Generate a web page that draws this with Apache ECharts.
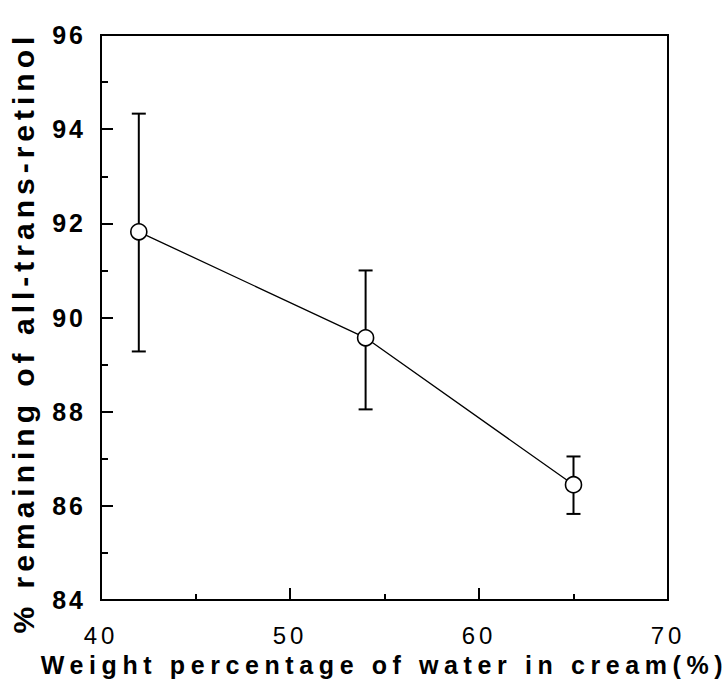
<!DOCTYPE html>
<html>
<head>
<meta charset="utf-8">
<script src="https://cdn.jsdelivr.net/npm/echarts@6/dist/echarts.min.js"></script>
<style>
  html, body { margin: 0; padding: 0; background: #fff; }
  #chart { width: 728px; height: 682px; }
</style>
</head>
<body>
<div id="chart"></div>
<script>
// Data
const waterPct = [42, 54, 65];
const retinolRemaining = [91.82, 89.57, 86.45];
const errUpper = [94.33, 91.0, 87.05];
const errLower = [89.28, 88.05, 85.83];
const xTicks = [40, 50, 60, 70];
const yTicks = [84, 86, 88, 90, 92, 94, 96];

const xTitle = 'Weight percentage of water in cream(%)';
const yTitle = '% remaining of all-trans-retinol';

const chart = echarts.init(document.getElementById('chart'), null, { renderer: 'svg' });

const lineData = waterPct.map((x, i) => [x, retinolRemaining[i]]);
const errData = waterPct.map((x, i) => [x, errLower[i], errUpper[i]]);

const option = {
  animation: false,
  backgroundColor: '#ffffff',
  grid: {
    left: 100, right: 60, top: 35, bottom: 79,
    show: true, borderColor: '#000', borderWidth: 2, backgroundColor: 'transparent'
  },
  xAxis: {
    type: 'value',
    min: xTicks[0], max: xTicks[xTicks.length - 1], interval: 10,
    axisLine: { show: true, lineStyle: { color: '#000', width: 2 } },
    axisTick: { show: true, inside: true, length: 12, lineStyle: { color: '#000', width: 2 } },
    minorTick: { show: true, splitNumber: 2, length: 6, lineStyle: { color: '#000', width: 2 } },
    splitLine: { show: false },
    axisLabel: {
      margin: 23, color: '#000', fontSize: 24,
      fontFamily: 'Liberation Sans', fontWeight: 'normal'
    },
    name: xTitle,
    nameLocation: 'middle',
    nameGap: 47,
    nameTextStyle: {
      color: '#000', fontSize: 25, fontWeight: 'bold',
      fontFamily: 'Liberation Sans'
    }
  },
  yAxis: {
    type: 'value',
    min: yTicks[0], max: yTicks[yTicks.length - 1], interval: 2,
    axisLine: { show: true, lineStyle: { color: '#000', width: 2 } },
    axisTick: { show: true, inside: true, length: 12, lineStyle: { color: '#000', width: 2 } },
    minorTick: { show: true, splitNumber: 2, length: 7, lineStyle: { color: '#000', width: 2 } },
    splitLine: { show: false },
    axisLabel: {
      margin: 15, color: '#000', fontSize: 25,
      fontFamily: 'Liberation Sans', fontWeight: 'bold'
    },
    name: yTitle,
    nameLocation: 'middle',
    nameGap: 63,
    nameTextStyle: {
      color: '#000', fontSize: 30, fontWeight: 'bold',
      fontFamily: 'Liberation Sans', padding: [0, 30, 0, 0]
    }
  },
  series: [
    {
      type: 'custom',
      z: 1,
      data: errData,
      encode: { x: 0, y: [1, 2] },
      renderItem: function (params, api) {
        const x = api.value(0);
        const lo = api.coord([x, api.value(1)]);
        const hi = api.coord([x, api.value(2)]);
        const cap = 7;
        const style = { stroke: '#000', lineWidth: 2 };
        return {
          type: 'group',
          children: [
            { type: 'line', shape: { x1: lo[0], y1: lo[1], x2: hi[0], y2: hi[1] }, style: style },
            { type: 'line', shape: { x1: lo[0] - cap, y1: lo[1], x2: lo[0] + cap, y2: lo[1] }, style: style },
            { type: 'line', shape: { x1: hi[0] - cap, y1: hi[1], x2: hi[0] + cap, y2: hi[1] }, style: style }
          ]
        };
      }
    },
    {
      type: 'line',
      z: 5,
      data: lineData,
      symbol: 'circle',
      symbolSize: 16,
      showSymbol: true,
      lineStyle: { color: '#000', width: 1.3 },
      itemStyle: { color: '#fff', borderColor: '#000', borderWidth: 1.6 }
    }
  ]
};

chart.setOption(option);

// Widen letter spacing of the texts, as in the original typeset figure
function applySpacing() {
  const xLabelSet = xTicks.map(String);
  const yLabelSet = yTicks.map(String);
  document.querySelectorAll('#chart svg text').forEach(function (t) {
    const s = t.textContent;
    let sp = null;
    if (s === yTitle) sp = '5px';
    else if (s === xTitle) sp = '5.6px';
    else if (yLabelSet.indexOf(s) >= 0 && xLabelSet.indexOf(s) < 0) sp = '3px';
    else if (xLabelSet.indexOf(s) >= 0) sp = '4px';
    if (sp) t.setAttribute('letter-spacing', sp);
  });
}
applySpacing();
chart.on('finished', applySpacing);
</script>
</body>
</html>
